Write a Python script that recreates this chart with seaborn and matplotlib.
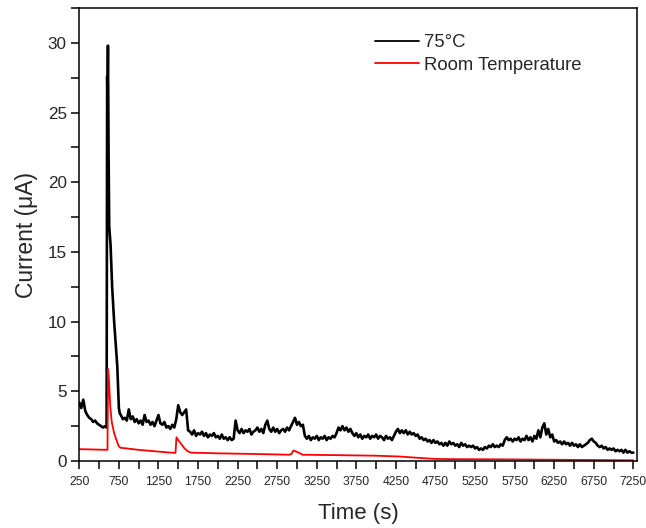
import numpy as np
import pandas as pd
import matplotlib
matplotlib.use("Agg")
import matplotlib.pyplot as plt
import seaborn as sns
from matplotlib.ticker import MultipleLocator

# ---------------- data ----------------
# 75 °C trace: pre-spike (25 s grid from 250 s)
hot_pre_t = [250, 275, 300, 325, 350, 375, 400, 425, 450, 475, 500, 525, 550, 575]
hot_pre_i = [4.2, 3.8, 4.4, 3.6, 3.3, 3.1, 3.0, 2.8, 2.9, 2.7, 2.6, 2.5, 2.4, 2.5]
# 75 °C trace: main spike
hot_spk_t = [595, 602, 606, 612, 620, 628, 645, 665, 690, 712, 730, 742, 750, 762]
hot_spk_i = [2.4, 27.6, 26.0, 29.8, 22.0, 16.8, 15.5, 12.5, 10.0, 8.2, 6.8, 5.0, 3.8, 3.4]
# 75 °C trace: after the spike (25 s grid from 775 s)
hot_post_start = 775
hot_post_i = [
    3.3, 3.0, 3.1, 2.9, 3.7, 3.0, 3.2, 2.8, 3.0, 2.7, 2.9, 2.6, 3.3, 2.8, 2.9, 2.6,
    2.8, 2.5, 2.9, 3.3, 2.7, 2.6, 2.8, 2.4, 2.5, 2.3, 2.6, 2.4,
    3.0, 4.0, 3.5, 3.3, 3.5, 3.7, 2.2, 2.1, 1.9, 2.2, 1.8, 2.0, 1.9, 2.1, 1.8, 2.0,
    1.7, 1.9, 1.8, 2.0, 1.7, 1.8, 1.6, 1.9, 1.6, 1.7, 1.5, 1.7, 1.5, 1.6,
    2.9, 2.2, 2.0, 2.3, 2.0, 2.2, 2.1, 2.3, 1.9, 2.1, 2.2, 2.4, 2.1, 2.3, 2.0, 2.6,
    2.9, 2.3, 2.1, 2.4, 2.1, 2.3, 2.0, 2.2, 2.3, 2.1, 2.4, 2.2, 2.5, 2.8, 3.1, 2.6,
    2.8, 2.5, 2.6, 1.8, 1.6, 1.8, 1.5, 1.7, 1.6, 1.8, 1.5, 1.7, 1.6, 1.8, 1.5, 1.7,
    1.6, 1.8, 1.7, 2.0, 2.4, 2.2, 2.5, 2.2, 2.4, 2.1, 2.3, 2.0, 1.8, 2.0, 1.7, 1.9,
    1.6, 1.8, 1.7, 1.9, 1.6, 1.8, 1.7, 1.9, 1.6, 1.8, 1.7, 1.5, 1.8, 1.6, 1.7, 1.5,
    1.8, 2.1, 2.3, 2.0, 2.2, 2.0, 2.2, 1.9, 2.1, 1.9, 2.0, 1.8, 1.9, 1.6, 1.7, 1.5,
    1.6, 1.4, 1.5, 1.3, 1.5, 1.3, 1.4, 1.2, 1.3, 1.1, 1.3, 1.1, 1.4, 1.2, 1.3, 1.1,
    1.2, 1.0, 1.3, 1.1, 1.2, 1.0, 1.1, 1.0, 1.1, 0.9, 1.0, 0.8, 0.9, 0.8, 1.0, 0.9,
    1.1, 1.0, 1.2, 1.0, 1.1, 1.0, 1.2, 1.1, 1.5, 1.7, 1.5, 1.6, 1.4, 1.6, 1.5, 1.7,
    1.4, 1.6, 1.5, 1.8, 1.5, 1.7, 1.4, 1.8, 1.6, 2.2, 1.7, 2.4, 2.7, 1.9, 2.3, 1.7,
    1.9, 1.4, 1.5, 1.3, 1.4, 1.2, 1.4, 1.2, 1.3, 1.1, 1.3, 1.1, 1.2, 1.0, 1.2, 1.0,
    1.1, 1.2, 1.3, 1.5, 1.6, 1.4, 1.3, 1.1, 1.0, 1.1, 0.9, 1.0, 0.8, 0.9, 0.8, 0.9,
    0.7, 0.8, 0.7, 0.8, 0.6, 0.8, 0.6, 0.7, 0.6, 0.6,
]

# Room temperature trace
room_t = [250, 400, 600, 606, 614, 625, 640, 660, 690, 720, 745, 770, 850, 1000,
          1200, 1400, 1465, 1478, 1500, 1540, 1580, 1620, 1660, 2000, 2500, 2900,
          2930, 2955, 2980, 3000, 3040, 3070, 3500, 4000, 4300, 4600, 4750, 5000,
          5500, 6000, 6500, 7000, 7250]
room_i = [0.85, 0.83, 0.80, 0.80, 6.6, 5.8, 4.0, 2.8, 2.0, 1.5, 1.1, 0.95, 0.9, 0.8,
          0.7, 0.6, 0.58, 1.7, 1.5, 1.2, 0.9, 0.7, 0.6, 0.55, 0.5, 0.45,
          0.5, 0.75, 0.7, 0.65, 0.55, 0.45, 0.42, 0.38, 0.32, 0.2, 0.15, 0.13,
          0.12, 0.1, 0.08, 0.06, 0.05]

series_labels = ["75°C", "Room Temperature"]
series_colors = ["black", "red"]
x_ticks = list(range(250, 7251, 500))
y_ticks = [0, 5, 10, 15, 20, 25, 30]

# ---------------- build table ----------------
hot_post_t = list(range(hot_post_start, hot_post_start + 25 * len(hot_post_i), 25))
hot_t = hot_pre_t + hot_spk_t + hot_post_t
hot_i = hot_pre_i + hot_spk_i + hot_post_i

df = pd.concat([
    pd.DataFrame({"Time": hot_t, "Current": hot_i, "Series": series_labels[0]}),
    pd.DataFrame({"Time": room_t, "Current": room_i, "Series": series_labels[1]}),
], ignore_index=True)

# ---------------- plot ----------------
sns.set_style("ticks")
plt.rcParams["font.family"] = ["Liberation Sans", "DejaVu Sans"]

fig = plt.figure(figsize=(6.46, 5.28), dpi=100)
ax = fig.add_axes([79.3 / 646, 67 / 528, (637.3 - 79.3) / 646, (461 - 8) / 528])

sns.lineplot(data=df, x="Time", y="Current", hue="Series",
             palette=dict(zip(series_labels, series_colors)),
             hue_order=series_labels, estimator=None, sort=False,
             ax=ax, linewidth=1.3)
# thicker black trace to mimic the dense noisy record
ax.get_lines()[0].set_linewidth(1.9)

ax.set_xlim(250, 7300)
ax.set_ylim(0, 32.5)
ax.set_xticks(x_ticks)
ax.set_yticks(y_ticks)
ax.xaxis.set_minor_locator(MultipleLocator(250))
ax.yaxis.set_minor_locator(MultipleLocator(2.5))
ax.tick_params(axis="both", which="both", direction="out", length=6, width=1.1, color="black")
ax.tick_params(axis="x", which="major", labelsize=8.7, pad=5)
ax.tick_params(axis="y", which="major", labelsize=12.3, pad=3)

for s in ax.spines.values():
    s.set_visible(True)
    s.set_linewidth(1.1)
    s.set_color("black")

ax.set_xlabel("Time (s)", fontsize=16)
ax.set_ylabel("Current (μA)", fontsize=16.5)
ax.xaxis.set_label_coords(0.5, -0.092)
ax.yaxis.set_label_coords(-0.074, 0.5)

leg = ax.legend(frameon=False, fontsize=13.3, loc="upper left",
                bbox_to_anchor=(375 / 646, 1 - 34 / 528),
                bbox_transform=fig.transFigure,
                handlelength=2.4, handletextpad=0.25, labelspacing=0.32,
                borderpad=0, borderaxespad=0)
for line in leg.get_lines():
    line.set_linewidth(1.3)

fig.savefig("out.png", dpi=100)
